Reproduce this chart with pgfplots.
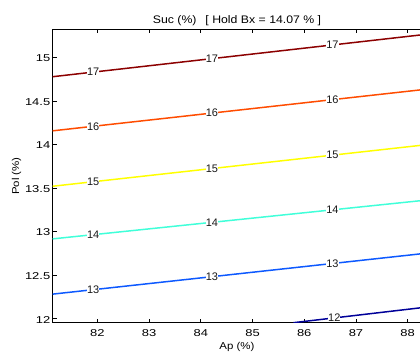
\documentclass[border=0pt]{standalone}
\usepackage{pgfplots}
\pgfplotsset{compat=1.18}
\usepackage{fontspec}
\setmainfont{Liberation Sans}

% contour level colours (jet-like)
\definecolor{c12}{rgb}{0,0,0.6}
\definecolor{c13}{rgb}{0.05,0.35,1}
\definecolor{c14}{rgb}{0.25,1,0.85}
\definecolor{c15}{rgb}{1,1,0}
\definecolor{c16}{rgb}{1,0.3,0}
\definecolor{c17}{rgb}{0.55,0,0}

\tikzset{clab/.style={fill=white, inner sep=0pt, text=black!90, font=\fontsize{11}{12}\selectfont}}

\begin{document}
\begin{tikzpicture}
\begin{axis}[
  scale only axis,
  width=368.6bp, height=293.4bp,
  xmin=81.137, xmax=88.263,
  ymin=11.954, ymax=15.321,
  xtick={82,83,84,85,86,87,88},
  ytick={12,12.5,13,13.5,14,14.5,15},
  xtick pos=both, ytick pos=left,
  tick align=inside,
  major tick length=4bp,
  axis line style={black, line width=1pt},
  every tick/.style={black, line width=0.6pt},
  /pgf/number format/assume math mode=true,
  /pgf/number format/fixed,
  xticklabel style={anchor=base, yshift=-14bp, inner sep=0pt,
    font=\fontsize{10}{12}\selectfont, xscale=1.3},
  yticklabel style={anchor=east, inner sep=0pt, xshift=-2.2bp, yshift=-1bp,
    font=\fontsize{10}{12}\selectfont, xscale=1.3},
  xlabel={Ap (\%)},
  ylabel={Pol (\%)},
  title={Suc (\%)\hspace{8bp}[ Hold Bx = 14.07 \% ]},
  every axis x label/.style={at={(axis description cs:0.5,0)}, anchor=base,
    yshift=-26.6bp, inner sep=0pt, font=\fontsize{10}{12}\selectfont, xscale=1.15},
  every axis y label/.style={at={(axis description cs:0,0.5)}, anchor=center,
    xshift=-36.2bp, rotate=90, inner sep=0pt, font=\fontsize{10}{12}\selectfont, xscale=1.15},
  every axis title/.style={at={(axis description cs:0.5,1)}, anchor=base,
    yshift=5.3bp, inner sep=0pt, font=\fontsize{11}{13}\selectfont, xscale=1.12},
]
% contour lines of Suc (%) with inline level labels
\addplot[c17, line width=1.5pt] coordinates {(81.137,14.777) (88.263,15.257)}
  node[clab, pos=0.110] {17} node[clab, pos=0.432] {17} node[clab, pos=0.759] {17};
\addplot[c16, line width=1.5pt] coordinates {(81.137,14.156) (88.263,14.627)}
  node[clab, pos=0.110] {16} node[clab, pos=0.432] {16} node[clab, pos=0.759] {16};
\addplot[c15, line width=1.5pt] coordinates {(81.137,13.520) (88.263,13.990)}
  node[clab, pos=0.110] {15} node[clab, pos=0.432] {15} node[clab, pos=0.759] {15};
\addplot[c14, line width=1.5pt] coordinates {(81.137,12.916) (88.263,13.355)}
  node[clab, pos=0.110] {14} node[clab, pos=0.432] {14} node[clab, pos=0.759] {14};
\addplot[c13, line width=1.5pt] coordinates {(81.137,12.282) (88.263,12.745)}
  node[clab, pos=0.110] {13} node[clab, pos=0.432] {13} node[clab, pos=0.759] {13};
\addplot[c12, line width=1.5pt] coordinates {(85.790,11.954) (88.263,12.126)}
  node[clab, pos=0.320] {12};
\end{axis}
\pgfresetboundingbox
\useasboundingbox (-52.7bp,-31.3bp) rectangle (367.3bp,322.7bp);
\end{tikzpicture}
\end{document}
